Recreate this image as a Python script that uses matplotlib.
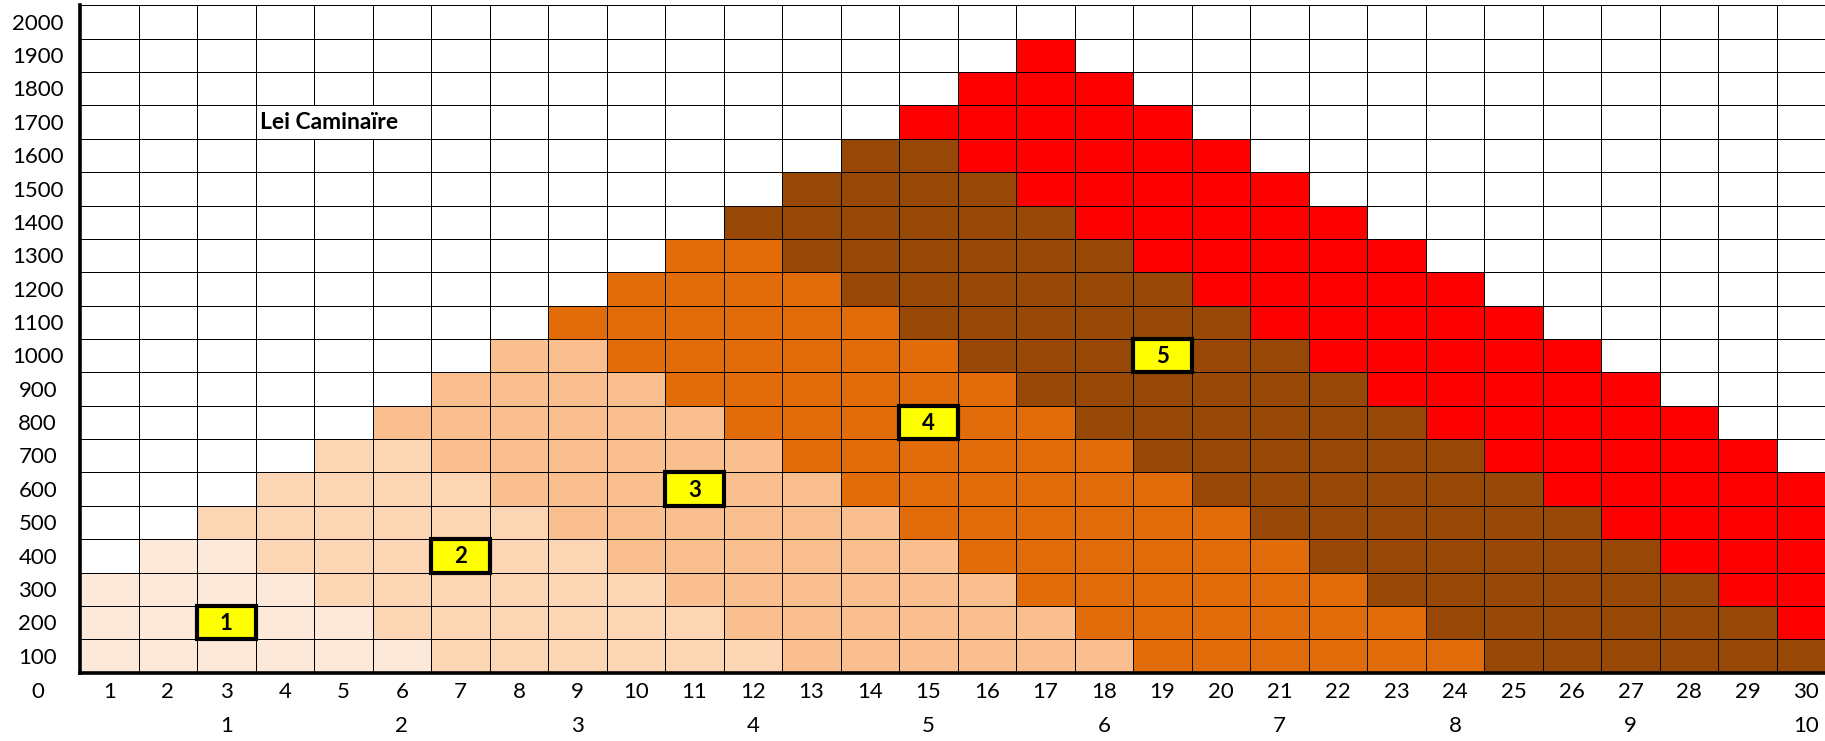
import matplotlib
matplotlib.use("Agg")
import matplotlib.pyplot as plt
import numpy as np
from matplotlib.colors import ListedColormap, BoundaryNorm
from matplotlib.patches import Rectangle

plt.rcParams["font.family"] = ["Lato", "DejaVu Sans"]

# cell levels, top row (2000) first; 0 = empty cell
grid_rows = [
    "000000000000000000000000000000",  # 2000
    "000000000000000060000000000000",  # 1900
    "000000000000000666000000000000",  # 1800
    "000000000000006666600000000000",  # 1700
    "000000000000055666660000000000",  # 1600
    "000000000000555566666000000000",  # 1500
    "000000000005555556666600000000",  # 1400
    "000000000044555555666660000000",  # 1300
    "000000000444455555566666000000",  # 1200
    "000000004444445555556666600000",  # 1100
    "000000033444444555555666660000",  # 1000
    "000000333344444455555566666000",  # 900
    "000003333334444445555556666600",  # 800
    "000022333333444444555555666660",  # 700
    "000222233333344444455555566666",  # 600
    "002222223333334444445555556666",  # 500
    "011222222333333444444555555666",  # 400
    "111122222233333344444455555566",  # 300
    "111112222223333334444445555556",  # 200
    "111111222222333333444444555555",  # 100
]
row_labels = ["2000", "1900", "1800", "1700", "1600", "1500", "1400", "1300", "1200", "1100",
              "1000", "900", "800", "700", "600", "500", "400", "300", "200", "100"]
col_labels = [str(i) for i in range(1, 31)]
group_labels = ["1", "2", "3", "4", "5", "6", "7", "8", "9", "10"]
group_cols = [3, 6, 9, 12, 15, 18, 21, 24, 27, 30]

# numbered markers: (label, column, row value)
marker_labels = ["1", "2", "3", "4", "5"]
marker_cols = [3, 7, 11, 15, 19]
marker_rows = [200, 400, 600, 800, 1000]

title_text = "Lei Caminaïre"

level_colors = ["#FFFFFF", "#FDE9D9", "#FCD5B4", "#FABF8F", "#E26B0A", "#974706", "#FF0000"]

W, H = 1825, 741
fig = plt.figure(figsize=(W / 100, H / 100), dpi=100)
x0, x1 = 80, 1835.5
y_top, y_bot = 5.3, 672.7
ax = fig.add_axes([x0 / W, (H - y_bot) / H, (x1 - x0) / W, (y_bot - y_top) / H])

n_rows = len(grid_rows)
n_cols = len(grid_rows[0])
levels = np.array([[int(ch) for ch in row] for row in grid_rows[::-1]])

cmap = ListedColormap(level_colors)
norm = BoundaryNorm(np.arange(-0.5, len(level_colors) + 0.5), cmap.N)
ax.pcolormesh(np.arange(n_cols + 1), np.arange(n_rows + 1), levels, cmap=cmap, norm=norm,
              edgecolors="black", linewidth=0.65)

# merged title cell spanning columns 4-6 on the 1700 row
r_title = n_rows - row_labels.index("1700") - 1
ax.add_patch(Rectangle((3, r_title), 3, 1, facecolor="white", edgecolor="black", linewidth=0.65, zorder=3))
ax.text(3.08, r_title + 0.5, title_text, ha="left", va="center", fontsize=16.5, fontweight="bold", zorder=4)

for lab, c, rv in zip(marker_labels, marker_cols, marker_rows):
    r = n_rows - row_labels.index(str(rv)) - 1
    ax.add_patch(Rectangle((c - 1, r), 1, 1, facecolor="#FFFF00", edgecolor="black", linewidth=3.0, zorder=5))
    ax.text(c - 0.5, r + 0.47, lab, ha="center", va="center", fontsize=16, fontweight="bold", zorder=6)

ax.set_xlim(0, n_cols)
ax.set_ylim(0, n_rows)
ax.set_xticks([])
ax.set_yticks([])
for side in ["left", "bottom"]:
    ax.spines[side].set_linewidth(2.6)
    ax.spines[side].set_zorder(7)
ax.spines["top"].set_linewidth(0.65)
ax.spines["right"].set_visible(False)

lab_x = (37.7 - x0) / 58.52
row_h = (y_bot - y_top) / n_rows
for i, lab in enumerate(row_labels):
    ax.text(lab_x, n_rows - i - 0.55, lab, ha="center", va="center", fontsize=16, clip_on=False)
ax.text(lab_x, -19 / row_h, "0", ha="center", va="center", fontsize=16, clip_on=False)
for i, lab in enumerate(col_labels):
    ax.text(i + 0.5, -19 / row_h, lab, ha="center", va="center", fontsize=16, clip_on=False)
for lab, c in zip(group_labels, group_cols):
    ax.text(c - 0.5, -53.3 / row_h, lab, ha="center", va="center", fontsize=16, clip_on=False)

fig.savefig("out.png", dpi=100)
